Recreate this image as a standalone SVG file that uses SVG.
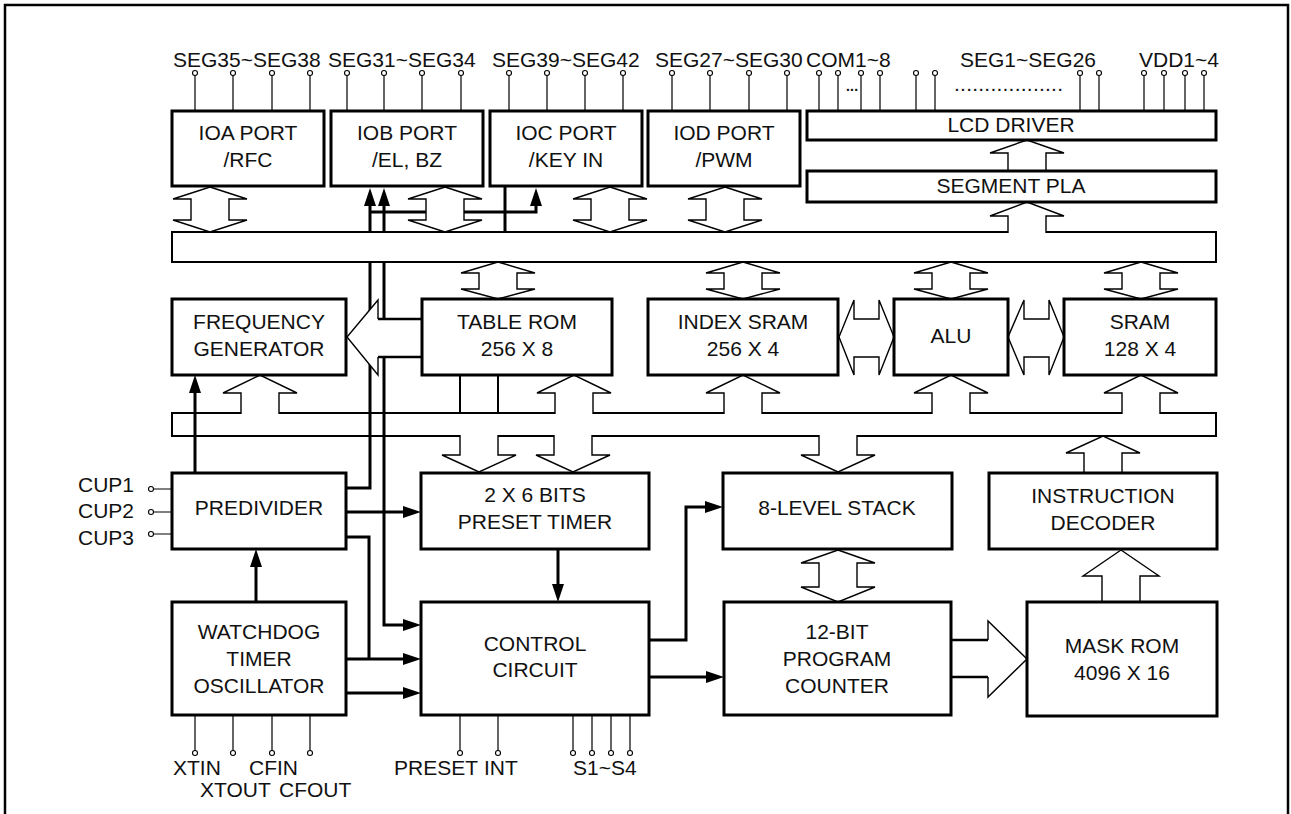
<svg xmlns="http://www.w3.org/2000/svg" width="1291" height="814" viewBox="0 0 1291 814">
<defs>
<style>
.box{fill:#fff;stroke:#000;stroke-width:3}
.bus{fill:#fff;stroke:#000;stroke-width:2}
.ha{fill:#fff;stroke:#000;stroke-width:1.4;stroke-linejoin:miter}
.hf{fill:#fff;stroke:none}
.th{fill:none;stroke:#000;stroke-width:2.6}
.w{fill:none;stroke:#000;stroke-width:3}
.w2{fill:none;stroke:#000;stroke-width:2}
.pl{stroke:#000;stroke-width:1.2;fill:none}
.pc{fill:#fff;stroke:#000;stroke-width:1.1}
text{font-family:"Liberation Sans",Arial,sans-serif;font-size:21px;fill:#111}
.c{text-anchor:middle}
.e{text-anchor:end}
</style>
<marker id="ah" markerUnits="userSpaceOnUse" markerWidth="18" markerHeight="12" refX="10" refY="6" orient="auto">
<path d="M0,0 L18,6 L0,12 z" fill="#000"/>
</marker>
</defs>
<rect x="5" y="5" width="1283" height="900" fill="none" stroke="#000" stroke-width="2.5"/>

<!-- lower bus (drawn beneath the connectors) -->
<g id="lower-bus"><rect class="bus" x="172" y="413" width="1044" height="23"/></g>

<g id="connectors">
<path class="w" d="M195,473 V383" marker-end="url(#ah)"/>
<path class="w" d="M346,488 H370 V196" marker-end="url(#ah)"/>
<path class="w" d="M370,212 H426"/>
<path class="w" d="M464,212 H536 V196" marker-end="url(#ah)"/>
<path class="w" d="M505,186 V232"/>
<path class="w" d="M384,319 V196" marker-end="url(#ah)"/>
<path class="w" d="M384,319 V625 H413" marker-end="url(#ah)"/>
<path class="w" d="M346,537 H369 V659"/>
<path class="w" d="M346,659 H413" marker-end="url(#ah)"/>
<path class="w" d="M346,693 H413" marker-end="url(#ah)"/>
<path class="w" d="M346,512 H413" marker-end="url(#ah)"/>
<path class="w" d="M256,602 V557" marker-end="url(#ah)"/>
<path class="w" d="M558,549 V594" marker-end="url(#ah)"/>
<path class="w" d="M649,640 H686 V507 H715" marker-end="url(#ah)"/>
<path class="w" d="M649,677 H716" marker-end="url(#ah)"/>
<path class="w2" d="M460,375 V413 M498,375 V413"/>
</g>

<g id="upper-bus"><rect class="bus" x="172" y="232" width="1044" height="30"/></g>

<g id="bus-arrows">
<polygon class="ha" points="210,187 247,199 229,199 229,220 247,220 210,232 173,220 191,220 191,199 173,199"/>
<polygon class="ha" points="445,187 482,199 464,199 464,220 482,220 445,232 408,220 426,220 426,199 408,199"/>
<polygon class="ha" points="610,187 647,199 629,199 629,220 647,220 610,232 573,220 591,220 591,199 573,199"/>
<polygon class="ha" points="725,187 762,199 744,199 744,220 762,220 725,232 688,220 706,220 706,199 688,199"/>
<path class="ha" d="M1008,171 V153 H990 L1027,140 L1064,153 H1046 V171"/>
<path class="ha" d="M1008,233 V216 H990 L1027,202 L1064,216 H1046 V233"/>
<polygon class="ha" points="498,262 535,273 517,273 517,289 535,289 498,299 461,289 479,289 479,273 461,273"/>
<polygon class="ha" points="743,262 780,273 762,273 762,289 780,289 743,299 706,289 724,289 724,273 706,273"/>
<polygon class="ha" points="951,262 988,273 970,273 970,289 988,289 951,299 914,289 932,289 932,273 914,273"/>
<polygon class="ha" points="1141,262 1178,273 1160,273 1160,289 1178,289 1141,299 1104,289 1122,289 1122,273 1104,273"/>
<path class="ha" d="M241,414 V393 H223 L260,375 L297,393 H279 V414"/>
<path class="ha" d="M555,414 V393 H537 L574,375 L611,393 H593 V414"/>
<path class="ha" d="M724,414 V393 H706 L743,375 L780,393 H762 V414"/>
<path class="ha" d="M932,414 V393 H914 L951,375 L988,393 H970 V414"/>
<path class="ha" d="M1122,414 V393 H1104 L1141,375 L1178,393 H1160 V414"/>
<path class="ha" d="M460,435 V455 H442 L479,472 L516,455 H498 V435"/>
<path class="ha" d="M554,435 V455 H536 L573,472 L610,455 H592 V435"/>
<path class="ha" d="M819,435 V455 H801 L838,472 L875,455 H857 V435"/>
<path class="ha" d="M1084,473 V453 H1066 L1103,436 L1140,453 H1122 V473"/>
<path class="ha" d="M1102,602 V576 H1083 L1121,550 L1159,576 H1140 V602"/>
<polygon class="ha" points="838,550 875,563 857,563 857,587 875,587 838,602 801,587 819,587 819,563 801,563"/>
<polygon class="ha" points="839,337 854,300 854,319 879,319 879,300 894,337 879,375 879,357 854,357 854,375"/>
<polygon class="ha" points="1008,337 1024,300 1024,319 1049,319 1049,300 1064,337 1049,375 1049,357 1024,357 1024,375"/>
<polygon class="hf" points="422,319 378,319 378,300 347,337 378,375 378,357 422,357"/>
<path class="ha" d="M378,319 V300 L347,337 L378,375 V357" fill="none"/>
<path class="th" d="M378,319 H422 M378,357 H422"/>
<polygon class="hf" points="951,640 988,640 988,621 1027,659 988,697 988,677 951,677"/>
<path class="ha" d="M988,640 V621 L1027,659 L988,697 V677" fill="none"/>
<path class="th" d="M951,640 H988 M951,677 H988"/>
</g>

<g id="pins">
<path class="pl" d="M195,75 V111 M233,75 V111 M272,75 V111 M310,75 V111 M347,75 V111 M384,75 V111 M422,75 V111 M461,75 V111 M509,75 V111 M547,75 V111 M585,75 V111 M623,75 V111 M672,75 V111 M710,75 V111 M749,75 V111 M787,75 V111 M819,75 V111 M838,75 V111 M861,75 V111 M880,75 V111 M916,75 V111 M935,75 V111 M1080,75 V111 M1099,75 V111 M1144,75 V111 M1164,75 V111 M1185,75 V111 M1204,75 V111"/>
<g class="pc">
<circle cx="195" cy="73" r="2.5"/><circle cx="233" cy="73" r="2.5"/><circle cx="272" cy="73" r="2.5"/><circle cx="310" cy="73" r="2.5"/>
<circle cx="347" cy="73" r="2.5"/><circle cx="384" cy="73" r="2.5"/><circle cx="422" cy="73" r="2.5"/><circle cx="461" cy="73" r="2.5"/>
<circle cx="509" cy="73" r="2.5"/><circle cx="547" cy="73" r="2.5"/><circle cx="585" cy="73" r="2.5"/><circle cx="623" cy="73" r="2.5"/>
<circle cx="672" cy="73" r="2.5"/><circle cx="710" cy="73" r="2.5"/><circle cx="749" cy="73" r="2.5"/><circle cx="787" cy="73" r="2.5"/>
<circle cx="819" cy="73" r="2.5"/><circle cx="838" cy="73" r="2.5"/><circle cx="861" cy="73" r="2.5"/><circle cx="880" cy="73" r="2.5"/>
<circle cx="916" cy="73" r="2.5"/><circle cx="935" cy="73" r="2.5"/><circle cx="1080" cy="73" r="2.5"/><circle cx="1099" cy="73" r="2.5"/>
<circle cx="1144" cy="73" r="2.5"/><circle cx="1164" cy="73" r="2.5"/><circle cx="1185" cy="73" r="2.5"/><circle cx="1204" cy="73" r="2.5"/>
</g>
<path class="pl" d="M153,489 H172 M153,512 H172 M153,534 H172"/>
<g class="pc"><circle cx="151" cy="489" r="2.5"/><circle cx="151" cy="512" r="2.5"/><circle cx="151" cy="534" r="2.5"/></g>
<path class="pl" d="M195,715 V751 M233,715 V751 M272,715 V751 M310,715 V751 M460,715 V751 M498,715 V751 M573,715 V751 M592,715 V751 M611,715 V751 M630,715 V751"/>
<g class="pc">
<circle cx="195" cy="753" r="2.5"/><circle cx="233" cy="753" r="2.5"/><circle cx="272" cy="753" r="2.5"/><circle cx="310" cy="753" r="2.5"/>
<circle cx="460" cy="753" r="2.5"/><circle cx="498" cy="753" r="2.5"/>
<circle cx="573" cy="753" r="2.5"/><circle cx="592" cy="753" r="2.5"/><circle cx="611" cy="753" r="2.5"/><circle cx="630" cy="753" r="2.5"/>
</g>
</g>

<g id="pin-labels">
<text x="173" y="67">SEG35~SEG38</text>
<text x="328" y="67">SEG31~SEG34</text>
<text x="492" y="67">SEG39~SEG42</text>
<text x="655" y="67">SEG27~SEG30</text>
<text x="806" y="67">COM1~8</text>
<text x="960" y="67">SEG1~SEG26</text>
<text x="1139" y="67">VDD1~4</text>
<text x="845" y="91" textLength="14" lengthAdjust="spacing">...</text>
<text x="954" y="91" textLength="109" lengthAdjust="spacing">..................</text>
<text class="e" x="134" y="492">CUP1</text>
<text class="e" x="134" y="518">CUP2</text>
<text class="e" x="134" y="545">CUP3</text>
<text x="173" y="775">XTIN</text>
<text x="249" y="775">CFIN</text>
<text x="200" y="797">XTOUT</text>
<text x="279" y="797">CFOUT</text>
<text x="394" y="775">PRESET</text>
<text x="484" y="775">INT</text>
<text x="573" y="775">S1~S4</text>
</g>

<g id="ioa"><rect class="box" x="172" y="111" width="152" height="75"/><text class="c" x="248" y="140">IOA PORT</text><text class="c" x="248" y="167">/RFC</text></g>
<g id="iob"><rect class="box" x="331" y="111" width="152" height="75"/><text class="c" x="407" y="140">IOB PORT</text><text class="c" x="407" y="167">/EL, BZ</text></g>
<g id="ioc"><rect class="box" x="490" y="111" width="152" height="75"/><text class="c" x="566" y="140">IOC PORT</text><text class="c" x="566" y="167">/KEY IN</text></g>
<g id="iod"><rect class="box" x="648" y="111" width="152" height="75"/><text class="c" x="724" y="140">IOD PORT</text><text class="c" x="724" y="167">/PWM</text></g>
<g id="lcd"><rect class="box" x="807" y="111" width="409" height="29"/><text class="c" x="1011" y="132">LCD DRIVER</text></g>
<g id="pla"><rect class="box" x="807" y="171" width="409" height="31"/><text class="c" x="1011" y="193">SEGMENT PLA</text></g>
<g id="freq"><rect class="box" x="172" y="299" width="174" height="76"/><text class="c" x="259" y="329">FREQUENCY</text><text class="c" x="259" y="356">GENERATOR</text></g>
<g id="tablerom"><rect class="box" x="422" y="299" width="190" height="76"/><text class="c" x="517" y="329">TABLE ROM</text><text class="c" x="517" y="356">256 X 8</text></g>
<g id="indexsram"><rect class="box" x="648" y="299" width="190" height="76"/><text class="c" x="743" y="329">INDEX SRAM</text><text class="c" x="743" y="356">256 X 4</text></g>
<g id="alu"><rect class="box" x="894" y="299" width="114" height="76"/><text class="c" x="951" y="343">ALU</text></g>
<g id="sram"><rect class="box" x="1064" y="299" width="152" height="76"/><text class="c" x="1140" y="329">SRAM</text><text class="c" x="1140" y="356">128 X 4</text></g>
<g id="predivider"><rect class="box" x="172" y="473" width="174" height="76"/><text class="c" x="259" y="515">PREDIVIDER</text></g>
<g id="timer"><rect class="box" x="421" y="473" width="228" height="76"/><text class="c" x="535" y="502">2 X 6 BITS</text><text class="c" x="535" y="529">PRESET TIMER</text></g>
<g id="stack"><rect class="box" x="723" y="473" width="229" height="76"/><text class="c" x="837" y="515">8-LEVEL STACK</text></g>
<g id="decoder"><rect class="box" x="989" y="473" width="228" height="76"/><text class="c" x="1103" y="503">INSTRUCTION</text><text class="c" x="1103" y="530">DECODER</text></g>
<g id="watchdog"><rect class="box" x="172" y="602" width="174" height="113"/><text class="c" x="259" y="639">WATCHDOG</text><text class="c" x="259" y="666">TIMER</text><text class="c" x="259" y="693">OSCILLATOR</text></g>
<g id="control"><rect class="box" x="421" y="602" width="228" height="113"/><text class="c" x="535" y="651">CONTROL</text><text class="c" x="535" y="677">CIRCUIT</text></g>
<g id="pcounter"><rect class="box" x="724" y="602" width="227" height="113"/><text class="c" x="837" y="639">12-BIT</text><text class="c" x="837" y="666">PROGRAM</text><text class="c" x="837" y="693">COUNTER</text></g>
<g id="maskrom"><rect class="box" x="1027" y="602" width="190" height="114"/><text class="c" x="1122" y="653">MASK ROM</text><text class="c" x="1122" y="680">4096 X 16</text></g>
</svg>
